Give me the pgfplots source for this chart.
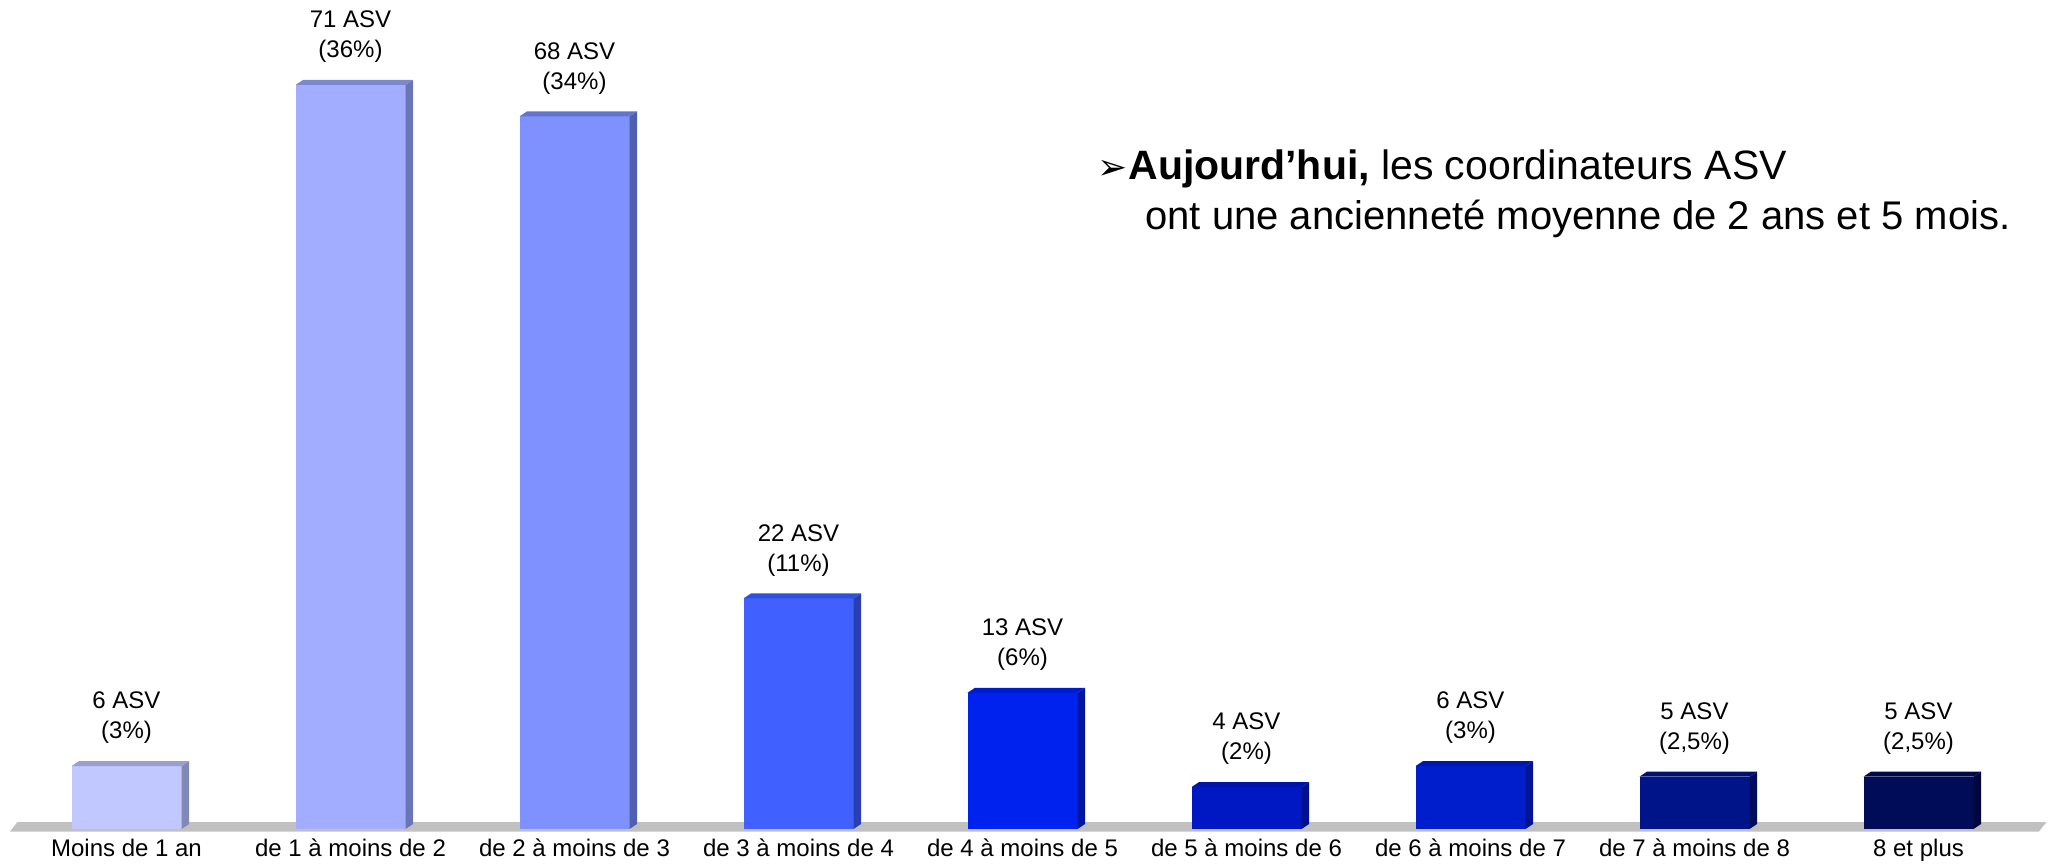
\documentclass[border=0pt]{standalone}
\usepackage{pgfplots}
\pgfplotsset{compat=1.18}
\usepackage{fontspec}
\setmainfont{Liberation Sans}
\newfontfamily\dejavu{DejaVu Sans}
\usetikzlibrary{calc}

\definecolor{f0}{HTML}{C0C8FF}\definecolor{s0}{HTML}{8088B4}\definecolor{t0}{HTML}{98A0CC}
\definecolor{f1}{HTML}{A2ADFF}\definecolor{s1}{HTML}{6A76B4}\definecolor{t1}{HTML}{7C88CC}
\definecolor{f2}{HTML}{7F90FF}\definecolor{s2}{HTML}{5060B0}\definecolor{t2}{HTML}{6474CC}
\definecolor{f3}{HTML}{4060FF}\definecolor{s3}{HTML}{2A3EB4}\definecolor{t3}{HTML}{3050D8}
\definecolor{f4}{HTML}{0022EE}\definecolor{s4}{HTML}{0016A0}\definecolor{t4}{HTML}{001CCC}
\definecolor{f5}{HTML}{0018C4}\definecolor{s5}{HTML}{001090}\definecolor{t5}{HTML}{0014A8}
\definecolor{f6}{HTML}{001ECC}\definecolor{s6}{HTML}{001494}\definecolor{t6}{HTML}{0018B0}
\definecolor{f7}{HTML}{00148A}\definecolor{s7}{HTML}{000C5C}\definecolor{t7}{HTML}{001070}
\definecolor{f8}{HTML}{000C58}\definecolor{s8}{HTML}{00073C}\definecolor{t8}{HTML}{000A48}
\definecolor{floorgray}{HTML}{C0C0C0}

% x, value, front colour, side colour, top colour, label
\newcommand{\tdbar}[6]{%
  \addplot[ybar, bar width=55pt, bar shift=0pt, fill=#3, draw=none,
    point meta=explicit symbolic, nodes near coords] coordinates {(#1,#2) [#6]};
  \fill[#4] ($(axis cs:#1,0)+(27.5pt,0pt)$) -- ($(axis cs:#1,0)+(31.25pt,2.5pt)$)
     -- ($(axis cs:#1,#2)+(31.25pt,2.5pt)$) -- ($(axis cs:#1,#2)+(27.5pt,0pt)$) -- cycle;
  \fill[#5] ($(axis cs:#1,#2)+(-27.5pt,0pt)$) -- ($(axis cs:#1,#2)+(-23.75pt,2.5pt)$)
     -- ($(axis cs:#1,#2)+(31.25pt,2.5pt)$) -- ($(axis cs:#1,#2)+(27.5pt,0pt)$) -- cycle;
}

\begin{document}
\begin{tikzpicture}
\useasboundingbox (0,0) rectangle (1025.5pt,431.5pt);
% floor
\fill[floorgray] (5pt,15.75pt) -- (1019.5pt,15.75pt) -- (1023.25pt,20.5pt) -- (8.75pt,20.5pt) -- cycle;
\begin{axis}[
  at={(7.25pt,17pt)}, anchor=south west,
  scale only axis, width=1008pt, height=408.7pt,
  xmin=-0.5, xmax=8.5, ymin=0, ymax=78,
  clip=false,
  axis line style={draw=none},
  tick style={draw=none},
  ytick=\empty,
  xtick={0,...,8},
  xticklabels={Moins de 1 an, de 1 à moins de 2, de 2 à moins de 3, de 3 à moins de 4, de 4 à moins de 5, de 5 à moins de 6, de 6 à moins de 7, de 7 à moins de 8, 8 et plus},
  xticklabel style={font=\fontsize{12}{14}\selectfont, anchor=base, yshift=-13.5pt},
  every node near coord/.append style={anchor=south, align=center, inner sep=0pt,
     yshift=11pt, font=\fontsize{12}{15}\selectfont, text=black},
]
\tdbar{0}{6}{f0}{s0}{t0}{6 ASV\\(3\%)}
\tdbar{1}{71}{f1}{s1}{t1}{71 ASV\\(36\%)}
\tdbar{2}{68}{f2}{s2}{t2}{68 ASV\\(34\%)}
\tdbar{3}{22}{f3}{s3}{t3}{22 ASV\\(11\%)}
\tdbar{4}{13}{f4}{s4}{t4}{13 ASV\\(6\%)}
\tdbar{5}{4}{f5}{s5}{t5}{4 ASV\\(2\%)}
\tdbar{6}{6}{f6}{s6}{t6}{6 ASV\\(3\%)}
\tdbar{7}{5}{f7}{s7}{t7}{5 ASV\\(2,5\%)}
\tdbar{8}{5}{f8}{s8}{t8}{5 ASV\\(2,5\%)}
\end{axis}
\node[anchor=base east, inner sep=0pt] at (564pt,341.5pt)
  {\dejavu\fontsize{18}{18}\selectfont ➢};
\node[anchor=base west, inner sep=0pt, font=\fontsize{20.5}{24}\selectfont] at (564pt,341.5pt)
  {\textbf{Aujourd’hui,} les coordinateurs ASV};
\node[anchor=base west, inner sep=0pt, font=\fontsize{20}{24}\selectfont] at (572.5pt,316.5pt)
  {ont une ancienneté moyenne de 2 ans et 5 mois.};
\end{tikzpicture}
\end{document}
